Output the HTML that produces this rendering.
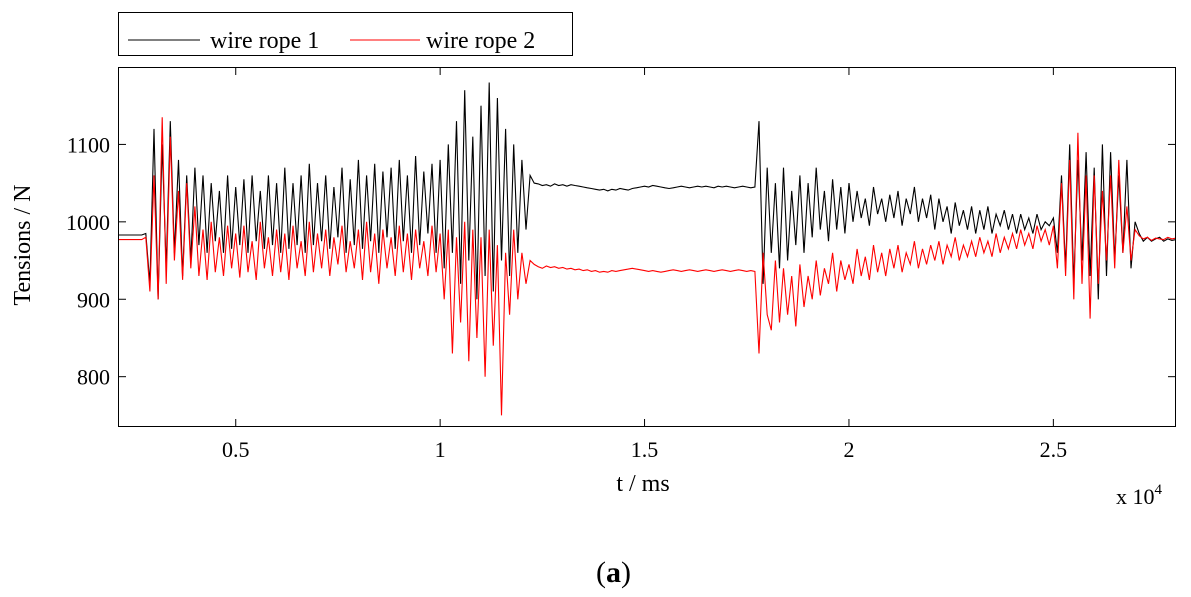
<!DOCTYPE html>
<html><head><meta charset="utf-8"><style>
html,body{margin:0;padding:0;background:#fff;width:1191px;height:597px;overflow:hidden}
svg text{font-family:"Liberation Serif",serif;fill:#000}
</style></head><body>
<svg id="chart" width="1191" height="597">
<g>
<rect x="118.5" y="12.5" width="454" height="43" fill="#fff" stroke="#000"/>
<line x1="128" y1="40" x2="200" y2="40" stroke="#000"/>
<text x="210" y="48" font-size="24">wire rope 1</text>
<line x1="350" y1="40" x2="420" y2="40" stroke="#f00"/>
<text x="426" y="48" font-size="24">wire rope 2</text>
</g>
<g id="plot"></g>
<text x="30" y="245" font-size="24" text-anchor="middle" transform="rotate(-90 30 245)">Tensions / N</text>
<text x="643" y="491" font-size="24" text-anchor="middle">t / ms</text>
<text x="1116" y="504" font-size="22">x 10<tspan dy="-10" font-size="15">4</tspan></text>
<text x="596" y="582" font-size="30">(<tspan font-weight="bold">a</tspan>)</text>
</svg>
<script>
const tStart = 2100, tStep = 100;
const xTicks = [5000, 10000, 15000, 20000, 25000];
const xTickLabels = ["0.5", "1", "1.5", "2", "2.5"];
const yTicks = [800, 900, 1000, 1100];
const rope1 = [983,983,983,983,983,983,983,985,
920,1120,900,1100,940,1130,960,1080,930,1060,950,1070,
970,1060,960,1050,975,1040,960,1060,965,1045,
970,1055,960,1060,975,1040,965,1060,970,1050,
960,1070,965,1050,970,1060,960,1075,970,1050,
975,1060,965,1045,980,1070,960,1055,970,1080,
965,1060,975,1075,960,1065,980,1070,965,1080,
975,1060,960,1085,970,1065,985,1075,960,1080,
940,1100,960,1130,920,1170,950,1110,900,1150,
930,1180,910,1160,950,1120,930,1100,960,1080,
990,1060,1050,
1049,1047,1048,1046,1049,1047,1048,1046,1048,1047,1046,1045,1044,1043,1042,1041,1042,1040,1042,1041,
1043,1042,1041,1043,1044,1045,1046,1045,1047,1046,1045,1044,1043,1044,1045,1046,1045,1044,1045,1046,
1045,1046,1045,1044,1046,1045,1046,1045,1044,1045,1046,1045,1044,1045,
1130,920,1070,
960,1050,940,1070,950,1040,970,1060,960,1050,
980,1070,990,1040,975,1055,990,1045,985,1050,
1000,1040,1005,1030,995,1045,1010,1030,1000,1035,
1005,1040,995,1030,1010,1045,1000,1030,1005,1035,
990,1030,1000,1020,985,1025,995,1015,990,1020,
985,1015,990,1020,985,1010,995,1015,990,1010,
985,1010,990,1005,985,1010,990,1000,995,1005,
960,1060,940,1100,920,1080,950,1090,930,1070,
900,1100,930,1090,950,1060,960,1080,940,1000,
985,975,980,975,978,980,975,978,976,977,977];
const rope2 = [977,977,977,977,977,977,977,980,
910,1060,900,1135,920,1110,950,1040,925,1050,940,1020,
930,990,925,1000,935,980,930,995,940,985,
928,995,935,975,925,1000,940,980,930,990,
935,985,925,995,940,975,930,1000,935,985,
940,990,930,980,945,995,935,975,940,990,
925,1000,935,985,920,990,940,980,930,995,
935,985,925,990,940,975,930,995,935,985,
900,990,830,980,870,1000,820,990,850,980,
800,990,840,970,750,960,880,990,900,960,
920,950,945,
942,940,943,941,942,940,941,939,940,938,939,937,938,936,937,935,936,935,937,936,
937,938,939,940,939,938,937,936,937,936,935,936,937,938,937,936,937,938,937,936,
937,938,937,936,937,938,937,936,937,938,937,936,937,936,
830,960,880,
860,950,870,940,880,930,865,945,890,930,
900,950,905,940,920,960,910,950,925,945,
920,965,930,955,925,970,935,960,930,965,
940,970,935,960,945,975,940,965,945,970,
950,975,945,970,955,980,950,970,955,975,
955,980,960,975,955,985,960,980,965,985,
965,990,970,985,965,995,975,990,970,995,
940,1050,930,1080,900,1115,920,1060,875,1060,
920,1040,950,1060,940,1080,960,1020,950,990,
982,978,980,976,979,978,977,980,978,979,978];
const L=118,R=1176,T=67,B=427,xMin=2120,xMax=28000,yMin=735,yMax=1200;
const xs=v=>L+(v-xMin)/(xMax-xMin)*(R-L);
const ys=v=>B-(v-yMin)/(yMax-yMin)*(B-T);
const NS="http://www.w3.org/2000/svg";
const g=document.getElementById('plot');
function mk(tag,attrs){const e=document.createElementNS(NS,tag);for(const k in attrs)e.setAttribute(k,attrs[k]);g.appendChild(e);return e;}
const cp=document.createElementNS(NS,'clipPath');cp.setAttribute('id','clip');
const cr=document.createElementNS(NS,'rect');cr.setAttribute('x',L);cr.setAttribute('y',T);cr.setAttribute('width',R-L);cr.setAttribute('height',B-T);cp.appendChild(cr);g.appendChild(cp);
function series(arr,color,name){
  let d='';
  arr.forEach((v,i)=>{const t=tStart+i*tStep;const x=xs(t),y=ys(v);d+=(i?' L':'M')+x.toFixed(1)+' '+y.toFixed(1);});
  const p=mk('path',{d:d,fill:'none',stroke:color,'stroke-width':1.1,'clip-path':'url(#clip)'});
  
  
}
series(rope1,'#000','series-wire-rope-1');
series(rope2,'#f00','series-wire-rope-2');
const frame=mk('rect',{x:L+.5,y:T+.5,width:R-L-1,height:B-T-1,fill:'none',stroke:'#000'});


xTicks.forEach((v,i)=>{const x=xs(v);
  mk('line',{x1:x,y1:B,x2:x,y2:B-8,stroke:'#000'});mk('line',{x1:x,y1:T,x2:x,y2:T+8,stroke:'#000'});
  const t=mk('text',{x:x,y:B+30,'font-size':22,'text-anchor':'middle'});t.textContent=xTickLabels[i];
  
  });
yTicks.forEach(v=>{const y=ys(v);
  mk('line',{x1:L,y1:y,x2:L+8,y2:y,stroke:'#000'});mk('line',{x1:R,y1:y,x2:R-8,y2:y,stroke:'#000'});
  const t=mk('text',{x:L-8,y:y+8,'font-size':22,'text-anchor':'end'});t.textContent=String(v);
  
  });
</script>
</body></html>
